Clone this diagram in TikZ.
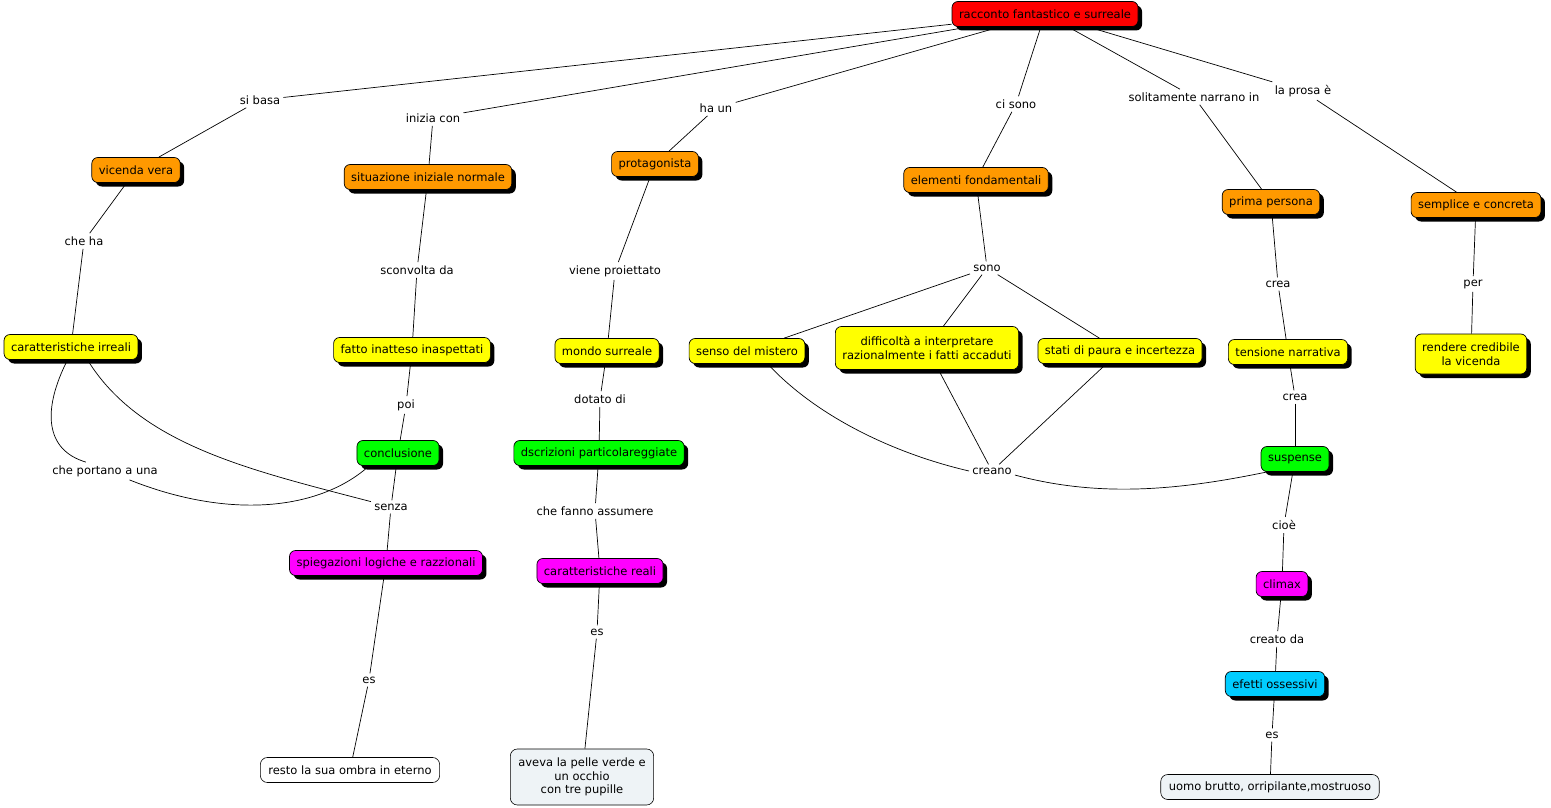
\documentclass[tikz,border=0pt]{standalone}
\usepackage{fontspec}
\setmainfont{DejaVu Sans}
\usetikzlibrary{shadows}
\definecolor{cmred}{RGB}{255,0,0}
\definecolor{cmorange}{RGB}{255,153,0}
\definecolor{cmyellow}{RGB}{255,255,0}
\definecolor{cmgreen}{RGB}{0,255,0}
\definecolor{cmmagenta}{RGB}{255,0,255}
\definecolor{cmcyan}{RGB}{0,204,255}
\definecolor{cmpale}{RGB}{238,243,246}
\begin{document}
\begin{tikzpicture}[x=1pt, y=-1pt, line width=0.7pt,
        every node/.style={font=\fontsize{11.5}{13.5}\selectfont},
        concept/.style={draw, rounded corners=6pt, inner xsep=7pt, inner ysep=3pt,
            minimum height=25pt, align=center,
            general shadow={fill=black, shadow xshift=4pt, shadow yshift=-4pt}},
        leaf/.style={draw, rounded corners=7pt, inner xsep=8pt, inner ysep=3pt,
            minimum height=25pt, align=center, line width=0.6pt},
        phrase/.style={inner sep=3pt}]
    \useasboundingbox (0,0) rectangle (1551,808);

    \node (root) [concept, fill=cmred] at (1045,14) {racconto fantastico e surreale};

    \node (vicenda) [concept, fill=cmorange] at (136,170) {vicenda vera};
    \node (situaz) [concept, fill=cmorange] at (428,177) {situazione iniziale normale};
    \node (protag) [concept, fill=cmorange] at (655,164) {protagonista};
    \node (elem) [concept, fill=cmorange] at (976,180) {elementi fondamentali};
    \node (prima) [concept, fill=cmorange] at (1271,202) {prima persona};
    \node (semplice) [concept, fill=cmorange] at (1476,205) {semplice e concreta};

    \node (irreali) [concept, fill=cmyellow] at (71,347) {caratteristiche irreali};
    \node (fatto) [concept, fill=cmyellow] at (412,350) {fatto inatteso inaspettati};
    \node (mondo) [concept, fill=cmyellow] at (607,351) {mondo surreale};
    \node (senso) [concept, fill=cmyellow] at (747,351) {senso del mistero};
    \node (diffic) [concept, fill=cmyellow, minimum height=43pt] at (927,348)
        {difficoltà a interpretare\\razionalmente i fatti accaduti};
    \node (stati) [concept, fill=cmyellow] at (1120,351) {stati di paura e incertezza};
    \node (tensione) [concept, fill=cmyellow] at (1288,352) {tensione narrativa};
    \node (rendere) [concept, fill=cmyellow, minimum height=40pt] at (1471,354)
        {rendere credibile\\la vicenda};

    \node (concl) [concept, fill=cmgreen] at (398,453) {conclusione};
    \node (descr) [concept, fill=cmgreen] at (599,453) {dscrizioni particolareggiate};
    \node (suspense) [concept, fill=cmgreen] at (1295,459) {suspense};

    \node (spieg) [concept, fill=cmmagenta] at (386,563) {spiegazioni logiche e razzionali};
    \node (reali) [concept, fill=cmmagenta] at (600,571) {caratteristiche reali};
    \node (climax) [concept, fill=cmmagenta] at (1282,584) {climax};
    \node (efetti) [concept, fill=cmcyan] at (1275,684) {efetti ossessivi};

    \node (resto) [leaf, fill=white] at (350,770) {resto la sua ombra in eterno};
    \node (aveva) [leaf, fill=cmpale, minimum height=56pt] at (582,777)
        {aveva la pelle verde e\\un occhio\\con tre pupille};
    \node (uomo) [leaf, fill=cmpale] at (1270,787) {uomo brutto, orripilante,mostruoso};

    \node (sibasa) [phrase] at (260,100) {si basa};
    \node (inizia) [phrase] at (433,118) {inizia con};
    \node (haun) [phrase] at (716,108) {ha un};
    \node (cisono) [phrase] at (1016,104) {ci sono};
    \node (narrano) [phrase] at (1194,97) {solitamente narrano in};
    \node (prosa) [phrase] at (1303,91) {la prosa è};
    \node (cheha) [phrase] at (84,241) {che ha};
    \node (sconvolta) [phrase] at (417,270) {sconvolta da};
    \node (proiett) [phrase] at (615,271) {viene proiettato};
    \node (sono) [phrase] at (987,268) {sono};
    \node (crea1) [phrase] at (1278,284) {crea};
    \node (per) [phrase] at (1473,284) {per};
    \node (poi) [phrase] at (406,405) {poi};
    \node (dotato) [phrase] at (600,399) {dotato di};
    \node (crea2) [phrase] at (1295,397) {crea};
    \node (portano) [phrase] at (105,471) {che portano a una};
    \node (creano) [phrase] at (992,471) {creano};
    \node (senza) [phrase] at (391,507) {senza};
    \node (fanno) [phrase] at (595,511) {che fanno assumere};
    \node (cioe) [phrase] at (1284,525) {cioè};
    \node (es1) [phrase] at (597,632) {es};
    \node (creato) [phrase] at (1277,639) {creato da};
    \node (es2) [phrase] at (369,680) {es};
    \node (es3) [phrase] at (1272,735) {es};

    \path [-] (root) edge (sibasa)
              (root) edge (inizia)
              (root) edge (haun)
              (root) edge (cisono)
              (root) edge (narrano)
              (root) edge (prosa)
              (sibasa) edge (vicenda)
              (inizia) edge (situaz)
              (haun) edge (protag)
              (cisono) edge (elem)
              (narrano) edge (prima)
              (prosa) edge (semplice)
              (vicenda) edge (cheha)
              (cheha) edge (irreali)
              (situaz) edge (sconvolta)
              (sconvolta) edge (fatto)
              (protag) edge (proiett)
              (proiett) edge (mondo)
              (elem) edge (sono)
              (sono) edge (senso)
              (sono) edge (diffic)
              (sono) edge (stati)
              (prima) edge (crea1)
              (crea1) edge (tensione)
              (semplice) edge (per)
              (per) edge (rendere)
              (fatto) edge (poi)
              (poi) edge (concl)
              (mondo) edge (dotato)
              (dotato) edge (descr)
              (tensione) edge (crea2)
              (crea2) edge (suspense)
              (concl) edge (senza)
              (senza) edge (spieg)
              (descr) edge (fanno)
              (fanno) edge (reali)
              (diffic) edge (creano)
              (stati) edge (creano)
              (suspense) edge (cioe)
              (cioe) edge (climax)
              (reali) edge (es1)
              (es1) edge (aveva)
              (climax) edge (creato)
              (creato) edge (efetti)
              (spieg) edge (es2)
              (es2) edge (resto)
              (efetti) edge (es3)
              (es3) edge (uomo);

    \draw (irreali.-105) .. controls (42,410) and (45,450) .. (portano.155);
    \draw (portano.-20) .. controls (230,520) and (320,510) .. (concl.204);
    \draw (irreali.-38) .. controls (140,445) and (250,470) .. (senza.165);
    \draw (senso.-32) .. controls (820,420) and (900,455) .. (creano.west);
    \draw (creano.-10) .. controls (1100,498) and (1180,490) .. (suspense.205);
\end{tikzpicture}
\end{document}
